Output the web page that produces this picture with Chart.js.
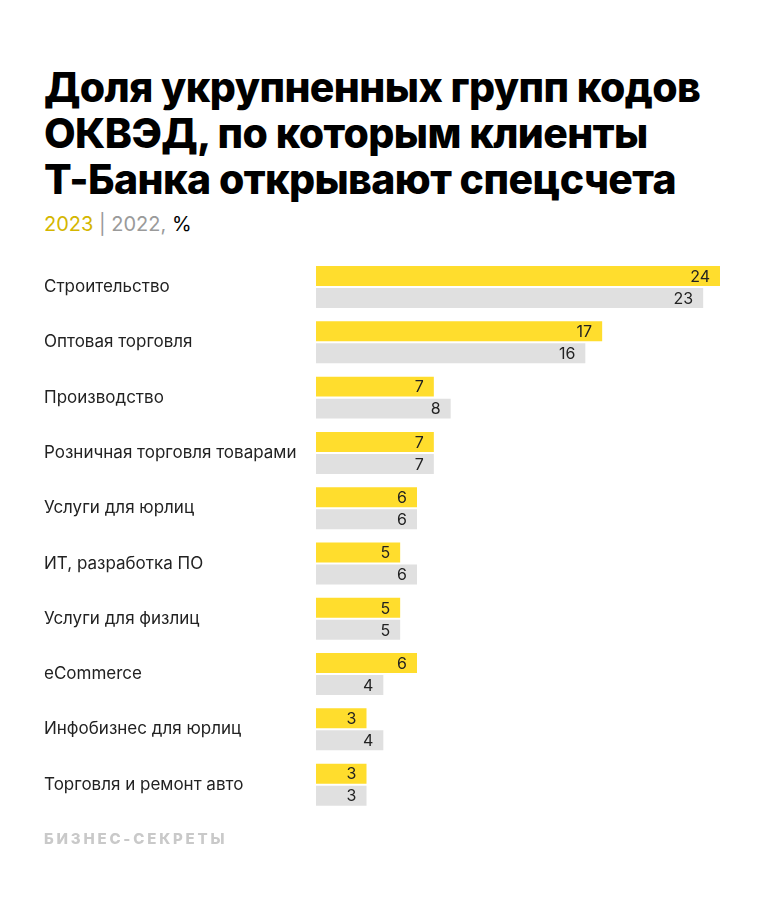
<!DOCTYPE html>
<html lang="ru">
<head>
<meta charset="utf-8">
<script src="https://cdn.jsdelivr.net/npm/chart.js@4"></script>
<style>
  body { margin: 0; width: 764px; height: 910px; background: #fff; position: relative; font-family: Inter, Roboto, sans-serif; overflow: hidden; }
  #title { position: absolute; left: 44px; top: 64px; font-size: 41px; font-weight: 800; line-height: 46px; color: #000; letter-spacing: -0.6px; }
  #sub { position: absolute; left: 44px; top: 212px; font-size: 20px; color: #000; }
  #sub .y23 { color: #d4b600; }
  #sub .y22 { color: #9a9a9a; }
  #footer { position: absolute; left: 44px; top: 829px; font-size: 15px; font-weight: 800; color: #c9c9c9; letter-spacing: 2.8px; }
  #wrap { position: absolute; left: 0; top: 241px; width: 764px; height: 590px; }
</style>
</head>
<body>
<div id="title">Доля укрупненных групп кодов<br>ОКВЭД, по которым клиенты<br>Т-Банка открывают спецсчета</div>
<div id="sub"><span class="y23">2023</span> <span class="y22">| 2022,</span> %</div>
<div id="wrap"><canvas id="myChart"></canvas></div>
<div id="footer">БИЗНЕС-СЕКРЕТЫ</div>
<script>
// Категории и значения (%)
const categories = [
  'Строительство',
  'Оптовая торговля',
  'Производство',
  'Розничная торговля товарами',
  'Услуги для юрлиц',
  'ИТ, разработка ПО',
  'Услуги для физлиц',
  'eCommerce',
  'Инфобизнес для юрлиц',
  'Торговля и ремонт авто'
];
const values2023 = [24, 17, 7, 7, 6, 5, 5, 6, 3, 3];
const values2022 = [23, 16, 8, 7, 6, 6, 5, 4, 4, 3];

// Подписи значений внутри конца столбца
const valueLabels = {
  id: 'valueLabels',
  afterDatasetsDraw(chart) {
    const ctx = chart.ctx;
    ctx.save();
    ctx.font = '16px Inter, Roboto, sans-serif';
    ctx.fillStyle = '#222';
    ctx.textAlign = 'right';
    ctx.textBaseline = 'middle';
    chart.data.datasets.forEach((ds, i) => {
      chart.getDatasetMeta(i).data.forEach((bar, j) => {
        ctx.fillText(ds.data[j], bar.x - 10, bar.y + 1);
      });
    });
    ctx.restore();
  }
};

const ctx = document.getElementById('myChart').getContext('2d');
new Chart(ctx, {
  type: 'bar',
  data: {
    labels: categories,
    datasets: [{
      label: '2023',
      data: values2023,
      backgroundColor: '#ffdd2d',
      categoryPercentage: 0.7957,
      barPercentage: 0.909
    }, {
      label: '2022',
      data: values2022,
      backgroundColor: '#e0e0e0',
      categoryPercentage: 0.7957,
      barPercentage: 0.909
    }]
  },
  options: {
    indexAxis: 'y',
    responsive: true,
    maintainAspectRatio: false,
    animation: false,
    layout: { padding: { left: 44, right: 44, top: 18.4, bottom: 18.7 } },
    plugins: { legend: { display: false }, tooltip: { enabled: false } },
    scales: {
      x: { display: false, min: 0, max: 24 },
      y: {
        grid: { display: false },
        border: { display: false },
        afterFit(scale) { scale.width = 272; },
        ticks: {
          crossAlign: 'far',
          padding: 0,
          color: '#222',
          font: { family: 'Inter, Roboto, sans-serif', size: 17 }
        }
      }
    }
  },
  plugins: [valueLabels]
});
</script>
</body>
</html>
